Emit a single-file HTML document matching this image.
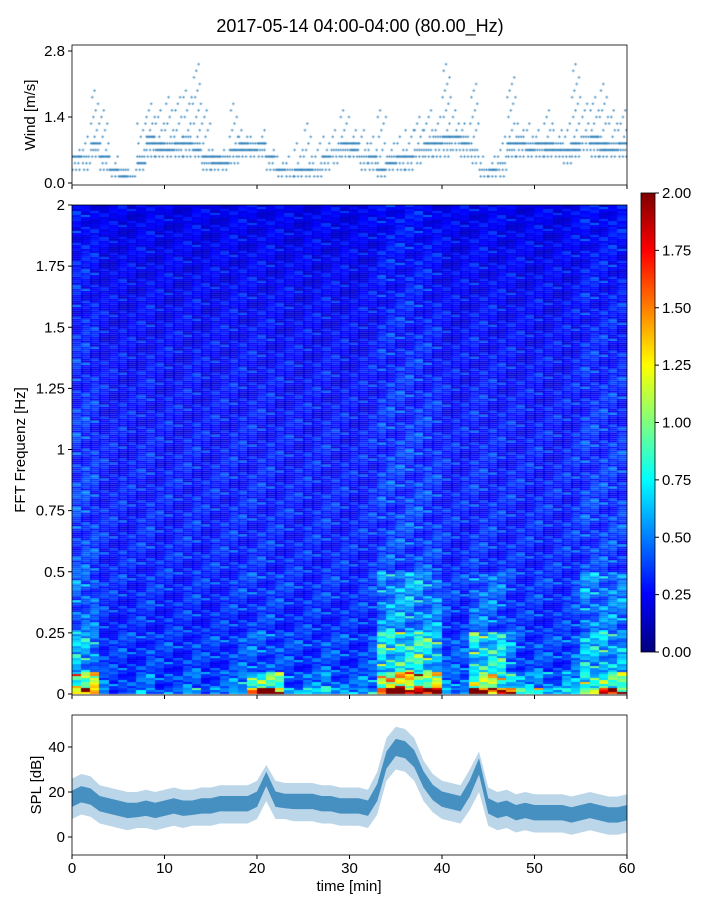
<!DOCTYPE html>
<html><head><meta charset="utf-8">
<style>
body{margin:0;background:#fff;width:720px;height:900px;overflow:hidden;position:relative;font-family:"Liberation Sans",sans-serif;}
canvas{position:absolute;}
svg{position:absolute;left:0;top:0;}
</style></head>
<body>
<canvas id="wind" width="555" height="140" style="left:72px;top:45px"></canvas>
<canvas id="spec" width="555" height="490" style="left:72px;top:205px"></canvas>
<canvas id="cbar" width="14" height="459" style="left:641px;top:193px"></canvas>
<svg id="svg" width="720" height="900"></svg>
<script>
// ---- data ----
const windMed=[0.6,0.6,0.8,0.6,0.3,0.2,0.15,0.5,0.9,0.8,0.8,0.8,0.9,0.8,0.5,0.5,0.5,0.7,0.8,0.8,0.8,0.6,0.3,0.3,0.3,0.3,0.3,0.6,0.7,0.8,0.8,0.6,0.6,0.3,0.5,0.6,0.6,0.7,0.8,0.9,0.9,1.0,0.9,0.7,0.3,0.3,0.4,0.8,0.9,0.8,0.8,0.8,0.8,0.7,0.8,1.0,0.9,0.8,0.8,0.8];
const windHi=[0.8,1.2,2.2,1.6,0.6,0.4,0.35,1.5,1.9,1.7,2.0,2.0,2.2,2.7,1.7,0.8,0.7,1.7,1.3,1.0,1.2,0.8,0.6,0.7,1.0,1.3,1.1,1.1,1.3,1.8,1.4,1.3,1.1,1.8,1.1,1.2,1.3,1.6,1.8,1.6,2.8,1.6,1.3,2.3,0.7,0.6,1.2,2.4,1.3,1.3,1.2,1.8,1.4,1.5,2.6,1.9,2.0,2.2,1.8,1.7];
const specBand0=[1.3,1.6,1.4,0.5,0.4,0.5,0.4,0.5,0.6,0.4,0.5,0.4,0.5,0.6,0.4,0.5,0.5,0.6,0.8,2,2,2,1.8,0.6,0.5,0.7,0.6,1.0,0.7,0.6,0.5,0.6,0.7,2,2,2,2,2,2,2,0.6,0.6,0.7,2,2,2,2,1.9,0.8,0.7,0.9,0.7,0.6,0.8,0.7,1.5,1.5,1.6,1.5,1.4];
const specBand1=[1.1,1.2,1.1,0.42,0.38,0.42,0.38,0.42,0.45,0.38,0.42,0.38,0.42,0.45,0.38,0.42,0.42,0.45,0.55,0.9,0.9,0.9,0.8,0.45,0.42,0.45,0.45,0.55,0.45,0.45,0.42,0.45,0.5,1.2,1.2,1.25,1.2,1.25,1.2,1.1,0.45,0.45,0.5,1.0,1.0,1.0,0.95,0.8,0.55,0.5,0.55,0.5,0.45,0.55,0.5,0.85,0.85,0.9,0.85,0.85];
const specBand2=[0.6,0.6,0.55,0.36,0.34,0.36,0.34,0.36,0.38,0.34,0.36,0.34,0.36,0.38,0.34,0.36,0.36,0.38,0.4,0.42,0.42,0.42,0.4,0.37,0.36,0.37,0.37,0.4,0.37,0.37,0.36,0.37,0.4,0.75,0.75,0.8,0.75,0.8,0.75,0.7,0.4,0.4,0.4,0.75,0.75,0.75,0.7,0.5,0.4,0.37,0.4,0.37,0.37,0.4,0.45,0.6,0.6,0.65,0.6,0.6];
const specBand3=[0.45,0.45,0.42,0.32,0.31,0.32,0.31,0.32,0.33,0.31,0.32,0.31,0.32,0.33,0.31,0.32,0.32,0.33,0.34,0.35,0.35,0.35,0.34,0.33,0.32,0.33,0.33,0.33,0.33,0.33,0.32,0.33,0.34,0.52,0.55,0.55,0.55,0.55,0.52,0.5,0.34,0.34,0.34,0.45,0.45,0.45,0.42,0.36,0.33,0.33,0.34,0.33,0.33,0.34,0.36,0.5,0.5,0.5,0.48,0.48];
const specHigh=[0.38,0.38,0.36,0.31,0.3,0.31,0.3,0.31,0.32,0.3,0.31,0.3,0.31,0.32,0.3,0.31,0.31,0.32,0.32,0.32,0.32,0.32,0.31,0.31,0.3,0.31,0.31,0.32,0.31,0.31,0.3,0.31,0.32,0.37,0.38,0.38,0.38,0.38,0.37,0.35,0.31,0.31,0.31,0.33,0.33,0.33,0.32,0.32,0.31,0.31,0.32,0.31,0.31,0.32,0.33,0.37,0.37,0.37,0.37,0.37];
const freqProfile=[1.0,0.95,0.9,0.85,0.8,0.75,0.72];
const streaks=[1.0,0.7,1.3,0.9,0.6,1.1,1.6,0.8,1.0,0.75,1.2,0.65,1.45,0.9,1.05,0.7,1.25,0.85,1.0,0.6,1.35,0.95,0.8,1.15,0.7,1.5,0.9,1.0,0.65,1.2,0.85,1.1,0.75,1.3,0.95,0.8,1.05];
const splMid=[17,19,18,15,14,13,12,12,13,12,13,14,13,13,14,14,15,15,15,15,17,27,17,16,16,16,16,15,15,14,14,14,13,20,34,40,39,35,26,20,17,16,15,22,33,14,12,13,11,12,11,11,11,11,10,11,12,11,10,10,11];
const splLo=[8,10,9,6,5,4,3,4,4,3,4,5,4,5,5,5,6,6,6,6,8,16,8,8,7,7,7,6,6,5,5,5,4,10,25,30,29,25,16,11,8,7,6,12,20,5,3,4,2,3,2,2,2,2,1,2,3,2,1,1,2];
const splHi=[26,28,27,23,22,21,20,20,21,20,21,22,21,21,22,22,23,23,23,23,25,32,25,24,24,24,24,23,23,22,22,22,21,29,44,49,48,44,34,28,25,24,23,30,38,22,20,21,19,20,19,19,19,19,18,19,20,19,18,18,19];
const xTicks=[0,10,20,30,40,50,60];
const windTicks=[0.0,1.4,2.8];
const freqTicks=[0,0.25,0.5,0.75,1,1.25,1.5,1.75,2];
const freqLabels=["0","0.25","0.5","0.75","1","1.25","1.5","1.75","2"];
const cbTicks=[0,0.25,0.5,0.75,1,1.25,1.5,1.75,2];
const splTicks=[0,20,40];

// ---- scales ----
const X0=72,W=555;
const xs=t=>X0+t*W/60;
const yWind=v=>183-v*47.14;
const yFreq=f=>694-f*244.5;
const ySpl=v=>837-v*2.25;
const yCb=v=>652-v*229.5;

function jet(v){let x=Math.max(0,Math.min(1,v/2));
 const c=t=>Math.max(0,Math.min(1,t));
 const r=c(1.5-Math.abs(4*x-3)),g=c(1.5-Math.abs(4*x-2)),b=c(1.5-Math.abs(4*x-1));
 return `rgb(${r*255|0},${g*255|0},${b*255|0})`;}

// wind scatter
(function(){const cx=document.getElementById('wind').getContext('2d');
 cx.strokeStyle='#1f77b4';cx.lineWidth=0.7;const q=0.14;
 for(let m=0;m<60;m++){const med=windMed[m],hi=windHi[m],lo=Math.max(0.14,med-0.28);
  for(let j=0;j<8;j++){const x=xs(m+(j+0.5)/8)-X0;
   for(let k=0;;k++){const v=Math.round(lo/q)*q+k*q;if(v>hi+0.01)break;
    const near=Math.abs(v-med)<0.1;
    if(near){if(j%2===1&&(m+k)%3===0)continue;}
    else if(v<med){if((j+k+m)%3!==0)continue;}
    else{if((j*3+k+m)%7!==0)continue;}
    if(v>hi-0.15&&v>med+0.4&&j!==3)continue;
    const y=yWind(v)-45;cx.beginPath();cx.moveTo(x-1.3,y);cx.lineTo(x+1.3,y);cx.moveTo(x,y-1.3);cx.lineTo(x,y+1.3);cx.stroke();}}}})();

// spectrogram
(function(){const cx=document.getElementById('spec').getContext('2d');
 const rows=245,cw=W/60;
 for(let c=0;c<60;c++){for(let r=0;r<rows;r++){const f=(r+0.5)*2/rows;let base;
  if(f<0.025)base=specBand0[c];else if(f<0.09)base=specBand1[c];else if(f<0.25)base=specBand2[c];else if(f<0.5)base=specBand3[c];
  else{const p=(f-0.5)/0.25,i=Math.min(5,Math.floor(p)),fr=p-i;base=specHigh[c]*(freqProfile[i]*(1-fr)+freqProfile[i+1]*fr);}
  const v=base*streaks[(r*13+c*7)%37];
  cx.fillStyle=jet(v);cx.fillRect(Math.floor(c*cw),yFreq(f)-205-1,Math.ceil(cw)+1,2);}}})();

// colorbar
(function(){const cx=document.getElementById('cbar').getContext('2d');
 for(let i=0;i<459;i++){cx.fillStyle=jet(2*(458-i)/458);cx.fillRect(0,i,14,1);}})();

// svg
const NS='http://www.w3.org/2000/svg',svg=document.getElementById('svg');
function el(tag,attrs,parent){const e=document.createElementNS(NS,tag);for(const k in attrs)e.setAttribute(k,attrs[k]);(parent||svg).appendChild(e);return e;}
function txt(s,attrs){const t=el('text',Object.assign({'font-size':15,fill:'#000','font-family':'Liberation Sans, sans-serif'},attrs));t.textContent=s;return t;}

const title=txt('2017-05-14 04:00-04:00 (80.00_Hz)',{x:360,y:32,'text-anchor':'middle','font-size':18});



// SPL band
const outer=splMid.map((_,i)=>[xs(i),ySpl(splHi[i])]).concat(splMid.map((_,i)=>[xs(i),ySpl(splLo[i])]).reverse());
const pO=el('polygon',{points:outer.map(p=>p.join(',')).join(' '),fill:'#1f77b4','fill-opacity':0.3});


const inner=splMid.map((m,i)=>[xs(i),ySpl(m+(splHi[i]-m)*0.4)]).concat(splMid.map((m,i)=>[xs(i),ySpl(m-(m-splLo[i])*0.4)]).reverse());
const pI=el('polygon',{points:inner.map(p=>p.join(',')).join(' '),fill:'#1f77b4','fill-opacity':0.75});



// frames
[[45,140,'wind-axes'],[205,490,'spectrogram-axes'],[715,140,'spl-axes']].forEach(a=>{
 const r=el('rect',{x:X0,y:a[0],width:W,height:a[1],fill:'none',stroke:'#000','stroke-width':0.8});
 });
const cbf=el('rect',{x:641,y:193,width:14,height:459,fill:'none',stroke:'#000','stroke-width':0.8});


// x ticks
xTicks.forEach(t=>{[185,695,855].forEach(y=>el('line',{x1:xs(t),x2:xs(t),y1:y,y2:y+4,stroke:'#000'}));
 const l=txt(String(t),{x:xs(t),y:873,'text-anchor':'middle'});
 });
windTicks.forEach(v=>{el('line',{x1:X0-4,x2:X0,y1:yWind(v),y2:yWind(v),stroke:'#000'});
 const l=txt(v.toFixed(1),{x:X0-7,y:yWind(v)+5,'text-anchor':'end'});
 });
freqTicks.forEach((v,i)=>{el('line',{x1:X0-4,x2:X0,y1:yFreq(v),y2:yFreq(v),stroke:'#000'});
 const l=txt(freqLabels[i],{x:X0-7,y:yFreq(v)+5,'text-anchor':'end'});
 });
cbTicks.forEach(v=>{el('line',{x1:655,x2:659,y1:yCb(v),y2:yCb(v),stroke:'#000'});
 const l=txt(v.toFixed(2),{x:662,y:yCb(v)+5});
 });
splTicks.forEach(v=>{el('line',{x1:X0-4,x2:X0,y1:ySpl(v),y2:ySpl(v),stroke:'#000'});
 const l=txt(String(v),{x:X0-7,y:ySpl(v)+5,'text-anchor':'end'});
 });

const a1=txt('Wind [m/s]',{x:0,y:0,'text-anchor':'middle',transform:'translate(35,115) rotate(-90)'});

const a2=txt('FFT Frequenz [Hz]',{x:0,y:0,'text-anchor':'middle',transform:'translate(25,450) rotate(-90)'});

const a3=txt('SPL [dB]',{x:0,y:0,'text-anchor':'middle',transform:'translate(41,785) rotate(-90)'});

const a4=txt('time [min]',{x:349,y:891,'text-anchor':'middle'});

</script>
</body></html>
